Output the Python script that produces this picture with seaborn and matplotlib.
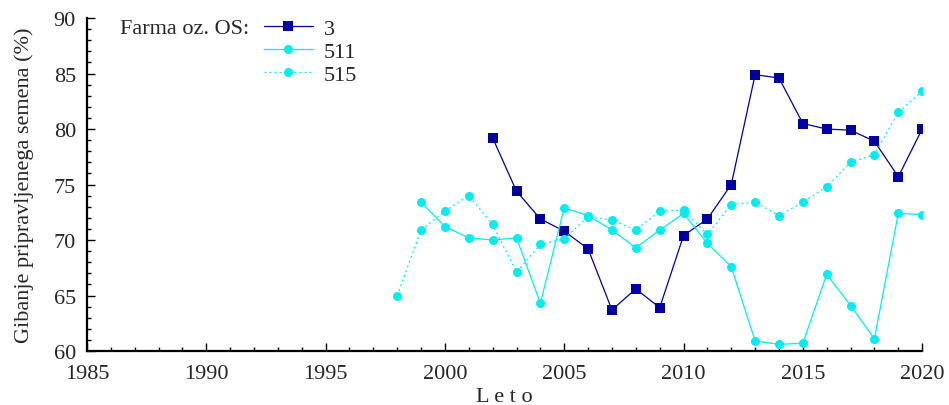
import numpy as np
import pandas as pd
import matplotlib
matplotlib.use('Agg')
import matplotlib.pyplot as plt
from matplotlib.ticker import MultipleLocator
import seaborn as sns

# values
years_3 = list(range(2002, 2021))
os_3 = [79.2, 74.4, 71.9, 70.8, 69.2, 63.7, 65.6, 63.9, 70.4, 71.9, 75.0,
        84.9, 84.6, 80.5, 80.0, 79.9, 78.9, 75.7, 80.0]

years_511 = list(range(1999, 2021))
os_511 = [73.4, 71.2, 70.2, 70.0, 70.2, 64.3, 72.9, 72.2, 70.9, 69.3, 70.9,
          72.4, 69.7, 67.6, 60.9, 60.6, 60.7, 66.9, 64.1, 61.1, 72.4, 72.3]

years_515 = list(range(1998, 2021))
os_515 = [65.0, 70.9, 72.6, 74.0, 71.4, 67.1, 69.6, 70.1, 72.1, 71.8, 70.9,
          72.6, 72.7, 70.5, 73.2, 73.4, 72.2, 73.4, 74.8, 77.0, 77.7, 81.5, 83.4]

sns.set_style('ticks')
plt.rcParams['font.family'] = ['Liberation Serif', 'DejaVu Serif']
plt.rcParams['font.size'] = 16

fig = plt.figure(figsize=(9.49, 4.06), dpi=100)
ax = fig.add_axes([0.0917, 0.133, 0.88, 0.82])

dark = '#0000a0'
cyan = '#00eef0'

sns.lineplot(x=years_3, y=os_3, ax=ax, color=dark, marker='s', markersize=7,
             markeredgewidth=0, linewidth=0.9, label='3')
sns.lineplot(x=years_511, y=os_511, ax=ax, color=cyan, marker='o', markersize=6.5,
             markeredgewidth=0, linewidth=0.9, label='511')
sns.lineplot(x=years_515, y=os_515, ax=ax, color=cyan, marker='o', markersize=6.5,
             markeredgewidth=0, linewidth=0.9, linestyle=(0, (1.5, 2.5)), label='515')

ax.set_xlim(1985, 2020)
ax.set_ylim(60, 90)
ax.xaxis.set_major_locator(MultipleLocator(5))
ax.xaxis.set_minor_locator(MultipleLocator(1))
ax.yaxis.set_major_locator(MultipleLocator(5))
ax.yaxis.set_minor_locator(MultipleLocator(1))
ax.tick_params(which='both', direction='in', labelsize=16, width=1, color='black')
ax.tick_params(which='major', length=6)
ax.tick_params(axis='x', which='major', pad=9)
ax.tick_params(axis='y', which='major', pad=8)
ax.tick_params(which='minor', length=3)
sns.despine(ax=ax)
for s in ['left', 'bottom']:
    ax.spines[s].set_linewidth(1.6)
    ax.spines[s].set_color('black')

ax.set_xlabel('L e t o', fontsize=16, labelpad=3)
ax.set_ylabel('Gibanje pripravljenega semena (%)', fontsize=16, labelpad=14)

leg = ax.legend(loc='upper left', bbox_to_anchor=(0.188, 1.06), frameon=False,
                fontsize=16, handlelength=2.2, handletextpad=0.5, labelspacing=0.12)
ax.text(0.04, 0.998, 'Farma oz. OS:', transform=ax.transAxes, fontsize=16,
        va='top', ha='left')

plt.savefig('out.png', dpi=100)
